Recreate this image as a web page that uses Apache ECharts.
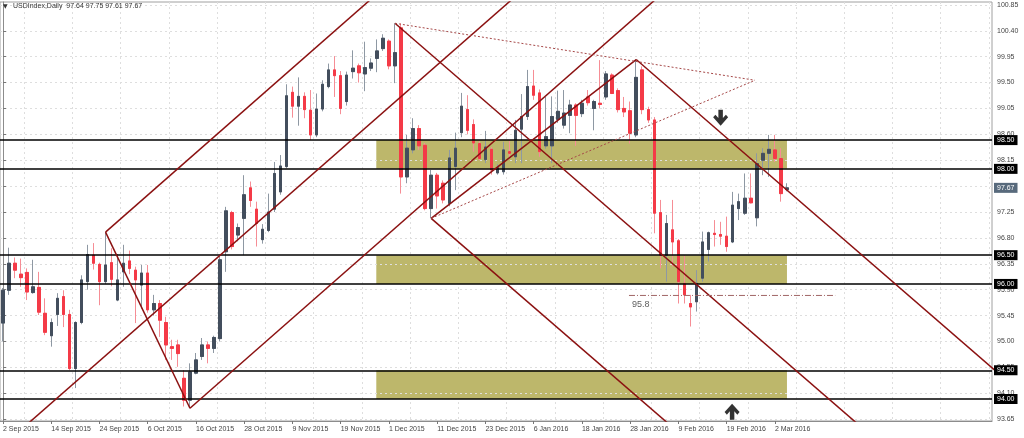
<!DOCTYPE html>
<html><head><meta charset="utf-8">
<style>html,body{margin:0;padding:0;background:#fff}#c{width:1024px;height:438px}</style>
<script src="https://cdn.jsdelivr.net/npm/echarts@6/dist/echarts.min.js"></script>
</head><body><div id="c"></div>
<script>
// ---------- data ----------
const symbolName = 'USDIndex';
const period = 'Daily';
const labelStep = 8;
const dateLabels = ['2 Sep 2015','14 Sep 2015','24 Sep 2015','6 Oct 2015','16 Oct 2015','28 Oct 2015','9 Nov 2015','19 Nov 2015','1 Dec 2015','11 Dec 2015','23 Dec 2015','6 Jan 2016','18 Jan 2016','28 Jan 2016','9 Feb 2016','19 Feb 2016','2 Mar 2016'];
const opens = [95.32,95.89,96.36,96.17,96.20,95.85,95.94,95.49,95.10,95.47,95.78,95.47,94.53,95.33,96.04,96.50,96.34,96.04,96.37,95.72,96.21,96.40,96.24,95.98,96.19,95.55,95.66,95.33,94.91,94.94,94.36,93.98,94.45,94.74,94.94,94.88,95.05,96.56,97.24,96.85,97.14,97.67,97.30,96.77,96.93,97.30,97.60,98.04,99.33,99.09,99.26,99.02,98.59,99.04,99.43,99.72,99.62,99.17,99.69,99.79,99.65,99.75,99.92,100.09,100.22,99.79,100.45,97.86,98.33,98.70,98.41,97.31,97.89,97.75,97.40,98.04,98.63,99.03,98.77,98.44,98.16,98.34,97.93,97.95,98.30,98.21,98.69,98.91,99.44,99.32,98.40,98.40,98.86,98.76,98.93,99.11,98.96,99.25,99.05,99.14,99.25,99.63,99.36,99.05,99.01,98.59,99.72,99.03,98.85,97.24,96.50,96.94,96.75,96.01,95.66,95.69,96.10,96.60,96.88,96.86,96.83,96.73,97.31,97.23,97.49,97.15,98.15,98.27,98.33,98.18,97.64];
const highs = [95.93,96.63,96.46,96.44,96.27,96.42,96.21,95.75,95.40,95.84,95.89,95.55,95.35,96.15,96.68,96.71,96.37,96.90,96.62,96.52,96.68,96.58,96.30,96.33,96.33,95.81,95.72,95.43,95.03,95.03,94.50,94.62,94.80,95.06,95.00,95.10,96.50,97.34,97.27,97.05,97.89,97.78,97.43,97.04,97.57,98.12,98.24,99.47,99.43,99.59,99.33,99.37,99.31,99.54,99.83,99.96,99.70,99.69,100.06,99.83,100.21,99.92,100.25,100.34,100.25,100.53,100.53,98.59,98.88,98.76,98.45,97.98,97.93,97.80,98.33,98.63,99.32,99.28,98.86,98.50,98.66,98.38,98.08,98.47,98.49,98.85,99.30,99.72,99.72,99.38,99.25,99.26,99.36,99.37,99.20,99.14,99.20,99.37,99.20,99.89,99.70,99.66,99.40,99.25,99.17,99.90,99.78,99.08,98.90,97.46,97.20,97.46,96.78,96.50,95.81,96.24,96.91,96.91,97.11,97.08,97.17,97.60,97.57,97.92,97.92,98.27,98.36,98.59,98.59,98.36,97.75];
const lows = [95.00,95.81,96.10,95.95,95.72,95.83,95.46,95.11,94.91,95.27,95.25,94.50,94.19,95.30,95.90,96.25,95.63,96.00,95.96,95.70,95.95,96.17,95.32,95.57,95.50,95.45,95.08,94.68,94.68,94.56,93.87,93.84,94.43,94.68,94.62,94.80,95.00,96.21,96.60,96.74,96.50,97.34,96.65,96.70,96.90,97.25,97.55,98.01,98.89,98.75,98.88,98.50,98.55,99.00,99.40,99.25,98.95,99.10,99.57,99.50,99.35,99.70,99.68,100.05,99.73,99.49,97.57,97.75,98.27,98.33,97.28,97.14,97.31,97.40,97.35,97.63,98.55,98.60,98.30,98.15,98.10,97.90,97.90,97.90,98.20,98.10,98.10,98.85,99.20,98.21,98.35,98.10,98.80,98.70,98.62,98.40,98.90,99.10,98.67,99.05,99.20,99.30,98.98,98.90,98.44,98.55,98.95,98.80,96.88,96.27,96.04,96.30,95.66,95.66,95.26,95.52,96.04,96.39,96.65,96.68,96.56,96.71,97.11,97.20,97.40,97.00,97.89,97.86,98.12,97.43,97.61];
const closes = [95.89,96.36,96.24,96.11,95.86,95.95,95.51,95.16,95.33,95.75,95.47,94.53,95.33,96.07,96.51,96.36,96.04,96.33,96.08,96.07,96.36,96.27,96.07,96.19,95.55,95.66,95.37,94.94,94.88,94.79,93.98,94.47,94.68,94.94,94.88,95.07,96.42,97.27,96.65,96.98,97.55,97.45,97.05,96.95,97.25,97.92,98.05,99.27,99.09,99.26,99.03,98.59,99.04,99.47,99.72,99.62,99.05,99.63,99.75,99.67,99.76,99.84,100.05,100.27,99.79,100.02,97.86,98.36,98.70,98.40,97.31,97.89,97.53,97.46,98.19,98.36,99.09,98.67,98.45,98.18,98.38,97.98,98.02,98.33,98.27,98.67,98.91,99.43,99.28,98.30,98.56,98.91,99.00,98.97,99.11,98.93,99.14,99.15,99.17,99.12,99.65,99.31,99.03,98.99,98.62,99.59,99.03,98.85,97.23,96.50,97.05,96.73,96.04,95.81,95.60,96.01,96.73,96.89,96.86,96.83,96.65,97.37,97.43,97.49,97.41,98.09,98.27,98.34,98.18,97.57,97.67];
const yTicks = [93.65,94.10,94.55,95.00,95.45,95.90,96.35,96.80,97.25,97.70,98.15,98.60,99.05,99.50,99.95,100.40,100.85];
const yRange = [93.618, 100.90];
const xRange = [-0.5, 164.0];
const levels = [98.50, 98.00, 96.50, 96.00, 94.50, 94.00];
const zoneBounds = [[98.00, 98.50], [96.00, 96.50], [94.00, 94.50]];
const zoneFrom = 61.9, zoneTo = 130.0;
// pitchfork / trend lines, as [bar index, price] pairs
const solidLines = [
  [[17, 96.90], [62, 101.04]],
  [[4, 93.56], [85, 101.00]],
  [[31, 93.84], [110, 101.11]],
  [[17, 96.90], [31, 93.84]],
  [[65, 100.53], [144, 93.36]],
  [[71, 97.14], [113, 93.33]],
  [[105, 99.90], [170, 94.00]],
  [[71, 97.14], [105, 99.90]]
];
const dottedLines = [
  [[65, 100.53], [124.7, 99.54]],
  [[71, 97.14], [124.7, 99.54]]
];
const supportValue = 95.8;
const supportFrom = 103.8, supportTo = 138;
const arrowDownAt = [119.0, 98.89];
const arrowUpAt = [120.9, 93.78];

// ---------- chart ----------
const FONT = 'Liberation Sans, Arial, sans-serif';
const GRID = '#dedede';
const UP = '#434e5d', DOWN = '#f43a47', UPW = '#8e98a3', DOWNW = '#f68d95';
const LINE = '#8b1111';
const last = opens.length - 1;
const candles = opens.map((o, i) => [i, o, closes[i], lows[i], highs[i]]);
const bodies = opens.map((o, i) => [i, o, closes[i], Math.min(o, closes[i]), Math.max(o, closes[i])]);
const labelIdx = dateLabels.map((d, i) => i * labelStep);
const gridXs = [];
for (let v = labelStep / 2 - 0.5; v < xRange[1]; v += labelStep) gridXs.push(v);
const fmt = v => v.toFixed(2);
const titleText = symbolName + ',' + period + '  ' + [opens[last], highs[last], lows[last], closes[last]].map(fmt).join(' ');

const series = [];
series.push({
  type: 'custom', z: 1, silent: true, xAxisIndex: 0, yAxisIndex: 0,
  data: zoneBounds.map(b => [zoneFrom, zoneTo, b[0], b[1]]),
  encode: { x: [0, 1], y: [2, 3] },
  renderItem: (params, api) => {
    const a = api.coord([api.value(0), api.value(3)]);
    const b = api.coord([api.value(1), api.value(2)]);
    return { type: 'rect', shape: { x: a[0], y: a[1], width: b[0] - a[0], height: b[1] - a[1] }, style: { fill: '#bdb76b' } };
  }
});
series.push({
  type: 'candlestick', z: 3, barWidth: 3, data: candles, encode: { x: 0, y: [1, 2, 3, 4] },
  itemStyle: { color: UP, color0: DOWN, borderColor: UPW, borderColor0: DOWNW, borderWidth: 1 }
});
series.push({
  type: 'candlestick', z: 4, barWidth: 3, data: bodies, encode: { x: 0, y: [1, 2, 3, 4] },
  itemStyle: { color: UP, color0: DOWN, borderColor: UP, borderColor0: DOWN, borderWidth: 1 },
  markLine: {
    silent: true, symbol: ['none', 'none'], animation: false, z: 5,
    lineStyle: { color: '#000', width: 1.6, type: 'solid' },
    label: { show: true, position: 'end', distance: 2, formatter: p => fmt(p.value), backgroundColor: '#000', color: '#fff',
      fontSize: 7, fontFamily: FONT, padding: [2, 3, 1, 3] },
    data: levels.map(v => ({ yAxis: v })).concat([{ yAxis: closes[last], lineStyle: { color: 'rgba(0,0,0,0)', width: 0 },
      label: { backgroundColor: '#586a7c', color: '#fff' } }])
  }
});
solidLines.forEach(seg => series.push({
  type: 'line', z: 5, data: seg, showSymbol: false, symbol: 'none', clip: true, silent: true,
  lineStyle: { color: LINE, width: 1.5 }
}));
dottedLines.forEach(seg => series.push({
  type: 'line', z: 5, data: seg, showSymbol: false, symbol: 'none', clip: true, silent: true,
  lineStyle: { color: '#a64848', width: 1, type: [2, 2] }
}));
series.push({
  type: 'line', z: 5, data: [[supportFrom, supportValue], [supportTo, supportValue]], showSymbol: false, symbol: 'none', silent: true,
  lineStyle: { color: '#a06565', width: 1, type: [6, 2, 1, 2] }
});
series.push({
  type: 'scatter', z: 6, silent: true, symbolSize: 0,
  data: [[supportFrom, supportValue]],
  label: { show: true, position: [3, 5], formatter: String(supportValue), fontSize: 9, color: '#333', fontFamily: FONT }
});
series.push({
  type: 'scatter', z: 6, silent: true,
  data: [
    { value: arrowDownAt, symbol: 'path://M35,0 L65,0 L65,50 L85,30 L100,45 L50,95 L0,45 L15,30 L35,50 Z' },
    { value: arrowUpAt, symbol: 'path://M35,95 L65,95 L65,45 L85,65 L100,50 L50,0 L0,50 L15,65 L35,45 Z' }
  ],
  symbolSize: [15, 16], itemStyle: { color: '#000' }
});

const option = {
  animation: false,
  backgroundColor: '#fff',
  grid: { left: 0, top: 2, width: 992, height: 419, show: true, borderColor: '#a0a0a0', borderWidth: 1 },
  graphic: [
    { type: 'text', left: 3, top: 3, z: 10, style: { text: '\u25BC', fontSize: 6, fill: '#333', fontFamily: 'DejaVu Sans' } },
    { type: 'text', left: 13, top: 3, z: 10, style: { text: titleText, fontSize: 7, fill: '#333', fontFamily: FONT } }
  ],
  xAxis: [
    { type: 'value', min: xRange[0], max: xRange[1], position: 'bottom', z: 0,
      axisLine: { show: true, lineStyle: { color: '#8c8c8c' } },
      axisTick: { show: true, customValues: labelIdx, length: 3, lineStyle: { color: '#777' } },
      axisLabel: { customValues: labelIdx, formatter: v => dateLabels[Math.round(v / labelStep)] || '', align: 'left',
        fontSize: 7, color: '#444', margin: 5, fontFamily: FONT },
      splitLine: { show: false } },
    { type: 'value', min: xRange[0], max: xRange[1], position: 'top', z: 0,
      axisLine: { show: false }, axisTick: { show: false, customValues: gridXs }, axisLabel: { show: false },
      splitLine: { show: true, lineStyle: { color: GRID, type: [2, 3] } } }
  ],
  yAxis: { type: 'value', position: 'right', min: yRange[0], max: yRange[1], z: 2,
    axisLine: { show: true, lineStyle: { color: '#8c8c8c' } },
    axisTick: { show: true, customValues: yTicks, length: 3, lineStyle: { color: '#777' } },
    axisLabel: { customValues: yTicks, formatter: v => fmt(v), fontSize: 7, color: '#444', margin: 5, fontFamily: FONT },
    splitLine: { show: true, lineStyle: { color: GRID, type: [2, 3] } } },
  series: series
};
const chart = echarts.init(document.getElementById('c'));
chart.setOption(option);
</script></body></html>
